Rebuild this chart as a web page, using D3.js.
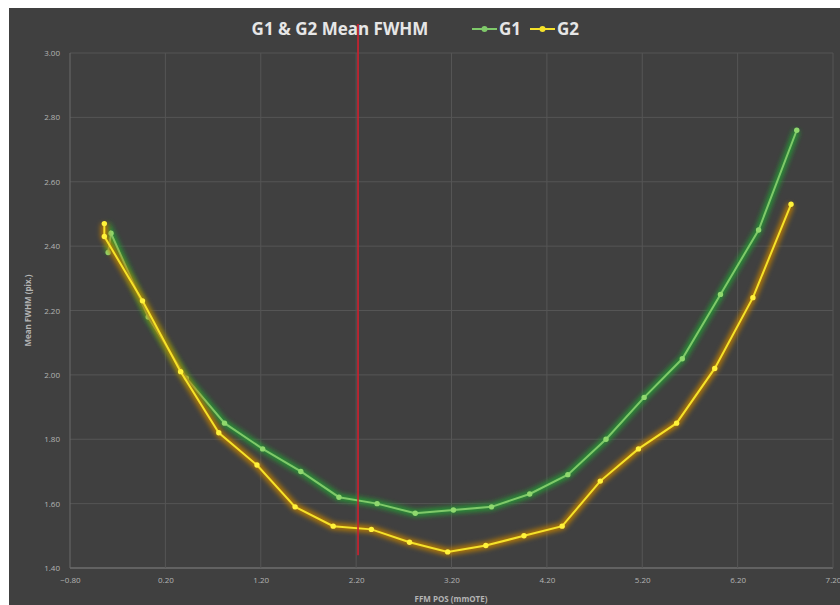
<!DOCTYPE html>
<html>
<head>
<meta charset="utf-8">
<script src="https://cdn.jsdelivr.net/npm/d3@7"></script>
<style>
  body { margin: 0; background: #ffffff; }
  text { font-family: "Open Sans", sans-serif; }
</style>
</head>
<body>
<div id="chart"></div>
<script>
const width = 840
const height = 605

// data
const g1X = [-0.40, -0.37, 0.02, 0.42, 0.82, 1.22, 1.62, 2.02, 2.42, 2.82, 3.22, 3.62, 4.02, 4.42, 4.82, 5.22, 5.62, 6.02, 6.42, 6.82]
const g1Y = [2.38, 2.44, 2.18, 1.99, 1.85, 1.77, 1.70, 1.62, 1.60, 1.57, 1.58, 1.59, 1.63, 1.69, 1.80, 1.93, 2.05, 2.25, 2.45, 2.76]
const g2X = [-0.44, -0.44, -0.04, 0.36, 0.76, 1.16, 1.56, 1.96, 2.36, 2.76, 3.16, 3.56, 3.96, 4.36, 4.76, 5.16, 5.56, 5.96, 6.36, 6.76]
const g2Y = [2.47, 2.43, 2.23, 2.01, 1.82, 1.72, 1.59, 1.53, 1.52, 1.48, 1.45, 1.47, 1.50, 1.53, 1.67, 1.77, 1.85, 2.02, 2.24, 2.53]
const xTicks = [-0.8, 0.2, 1.2, 2.2, 3.2, 4.2, 5.2, 6.2, 7.2]
const yTicks = [1.4, 1.6, 1.8, 2.0, 2.2, 2.4, 2.6, 2.8, 3.0]
const markerLine = { x: 2.22, y0: 1.44, y1: 3.09 }

const g1 = g1X.map((x, i) => ({ x: x, y: g1Y[i] }))
const g2 = g2X.map((x, i) => ({ x: x, y: g2Y[i] }))

const svg = d3.select("div#chart").append("svg").attr("width", width).attr("height", height)

const defs = svg.append("defs")
defs.append("filter").attr("id", "glow").attr("x", "-10%").attr("y", "-10%").attr("width", "120%").attr("height", "120%")
    .append("feGaussianBlur").attr("stdDeviation", 2.5)

// dark panel
svg.append("rect").attr("x", 9).attr("y", 8).attr("width", width - 9).attr("height", height - 8).attr("fill", "#404040")

const x = d3.scaleLinear().domain([-0.8, 7.2]).range([70, 833])
const y = d3.scaleLinear().domain([1.4, 3.0]).range([568, 53])

const gridGroup = svg.append("g").attr("id", "gridGroup")
gridGroup.selectAll("line.h").data(yTicks).enter().append("line")
    .attr("x1", x(-0.8)).attr("x2", x(7.2))
    .attr("y1", d => y(d)).attr("y2", d => y(d))
    .attr("stroke", d => d === 1.4 ? "#6e6e6e" : "#555555").attr("stroke-width", d => d === 1.4 ? 1.5 : 1)
gridGroup.selectAll("line.v").data(xTicks).enter().append("line")
    .attr("y1", y(1.4)).attr("y2", y(3.0))
    .attr("x1", d => x(d)).attr("x2", d => x(d))
    .attr("stroke", d => d === -0.8 ? "#6a6a6a" : "#555555").attr("stroke-width", 1)

// tick labels
const xAxis = d3.axisBottom(x).tickValues(xTicks).tickFormat(d3.format(".2f")).tickSize(0).tickPadding(9)
const yAxis = d3.axisLeft(y).tickValues(yTicks).tickFormat(d3.format(".2f")).tickSize(0).tickPadding(10)
svg.append("g").attr("transform", `translate(0, ${y(1.4)})`).call(xAxis)
svg.append("g").attr("transform", `translate(${x(-0.8)}, 0)`).call(yAxis)
svg.selectAll(".domain").remove()
svg.selectAll(".tick text").attr("fill", "#b4b4b4").style("font-size", "8px").style("font-family", "Open Sans, sans-serif")

// lines
const line = d3.line().x(d => x(d.x)).y(d => y(d.y))
const elementGroup = svg.append("g").attr("id", "elementGroup")

function drawSeries(data, glowColor, coreColor, dotColor) {
    elementGroup.append("path").datum(data)
        .attr("d", line).attr("fill", "none")
        .attr("stroke", glowColor).attr("stroke-width", 7).attr("opacity", 0.9)
        .attr("filter", "url(#glow)")
    elementGroup.append("path").datum(data)
        .attr("d", line).attr("fill", "none")
        .attr("stroke", coreColor).attr("stroke-width", 2)
    elementGroup.selectAll(null).data(data).enter().append("circle")
        .attr("cx", d => x(d.x)).attr("cy", d => y(d.y)).attr("r", 2.7)
        .attr("fill", dotColor)
}

drawSeries(g1, "#279a34", "#7fc96a", "#8fd86e")
drawSeries(g2, "#c07f00", "#f5e22a", "#fff23a")

// red reference line
svg.append("line")
    .attr("x1", x(markerLine.x)).attr("x2", x(markerLine.x))
    .attr("y1", y(markerLine.y1)).attr("y2", y(markerLine.y0))
    .attr("stroke", "#d0202e").attr("stroke-width", 1.6)

// title + legend
svg.append("text").text("G1 & G2 Mean FWHM")
    .attr("x", 340).attr("y", 35).attr("text-anchor", "middle")
    .attr("fill", "#e6e6e6").attr("font-weight", 700).style("font-size", "17px")

const legend = [
    { name: "G1", x0: 472, color: "#7fc96a", glow: "#279a34" },
    { name: "G2", x0: 530, color: "#f5e22a", glow: "#c07f00" }
]
legend.forEach(l => {
    svg.append("line").attr("x1", l.x0).attr("x2", l.x0 + 25).attr("y1", 29).attr("y2", 29)
        .attr("stroke", l.glow).attr("stroke-width", 5).attr("opacity", 0.7).attr("filter", "url(#glow)")
    svg.append("line").attr("x1", l.x0).attr("x2", l.x0 + 25).attr("y1", 29).attr("y2", 29)
        .attr("stroke", l.color).attr("stroke-width", 2)
    svg.append("circle").attr("cx", l.x0 + 12.5).attr("cy", 29).attr("r", 3).attr("fill", l.color)
    svg.append("text").text(l.name).attr("x", l.x0 + 27).attr("y", 35)
        .attr("fill", "#e6e6e6").attr("font-weight", 700).style("font-size", "17px")
})

// axis titles
svg.append("text").text("FFM POS (mmOTE)")
    .attr("x", 451).attr("y", 602).attr("text-anchor", "middle")
    .attr("fill", "#b4b4b4").attr("font-weight", 700).style("font-size", "8px")
svg.append("text").text("Mean FWHM (pix.)")
    .attr("transform", `translate(31, ${y(2.2)}) rotate(-90)`).attr("text-anchor", "middle")
    .attr("fill", "#b4b4b4").attr("font-weight", 700).style("font-size", "8px")
</script>
</body>
</html>
